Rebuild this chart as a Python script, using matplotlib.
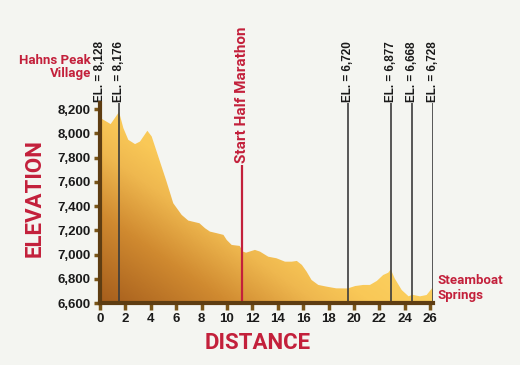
import numpy as np
import matplotlib
matplotlib.use('Agg')
import matplotlib.pyplot as plt
from matplotlib.colors import LinearSegmentedColormap

# Elevation profile (miles, feet)
miles = [0.0, 0.84, 1.5, 1.84, 2.23, 2.76, 3.15, 3.73, 4.07, 4.46, 4.85, 5.24,
         5.77, 6.43, 6.95, 7.83, 8.27, 8.66, 9.19, 9.72, 9.98, 10.37, 11.0,
         11.26, 11.5, 12.2, 12.6, 13.25, 13.9, 14.57, 15.1, 15.5, 15.9, 16.27,
         16.66, 17.19, 17.85, 18.6, 19.5, 20.1, 20.73, 21.26, 21.8, 22.3, 22.7,
         22.9, 23.2, 23.76, 24.3, 24.6, 25.2, 25.72, 26.2]
elevation = [8128, 8076, 8176, 8043, 7946, 7911, 7932, 8021, 7974, 7850, 7726,
             7602, 7423, 7327, 7280, 7258, 7217, 7189, 7176, 7162, 7120, 7079,
             7071, 7024, 7015, 7038, 7024, 6982, 6969, 6941, 6941, 6947, 6914,
             6859, 6790, 6749, 6735, 6721, 6720, 6740, 6749, 6749, 6782, 6831,
             6850, 6877, 6804, 6707, 6655, 6668, 6655, 6666, 6728]

marker_miles = [0.0, 1.5, 19.5, 22.9, 24.6, 26.2]
marker_labels = ['EL. = 8,128', 'EL. = 8,176', 'EL. = 6,720', 'EL. = 6,877',
                 'EL. = 6,668', 'EL. = 6,728']
half_start = 11.15

x_ticks = list(range(0, 27, 2))
y_ticks = list(range(6600, 8201, 200))

BG = '#f4f5f1'
RED = '#c3203b'
BROWN = '#5e3d12'

fig = plt.figure(figsize=(5.2, 3.65), dpi=100, facecolor=BG)
ax = fig.add_axes([100 / 520, 62 / 365, 332.7 / 520, 200 / 365])
ax.set_facecolor(BG)
ax.set_xlim(0, 26.2)
ax.set_ylim(6600, 8250)

# diagonal gradient (dark bottom-left -> yellow top-right), clipped to the profile
px, py = np.meshgrid(np.linspace(0, 333, 300), np.linspace(0, 200, 200))
grad = np.clip((0.57 * px + 0.82 * py) / 260, 0, 1)
cmap = LinearSegmentedColormap.from_list(
    'fill', [(0, '#a55d1c'), (0.28, '#d08a30'), (0.48, '#efb84f'),
             (0.6, '#f9c857'), (1, '#ffdb6b')])
img = ax.imshow(grad, cmap=cmap, origin='lower', aspect='auto',
                extent=[0, 26.2, 6600, 8250], zorder=1)
poly = ax.fill_between(miles, elevation, 6600, color='none', lw=0)
img.set_clip_path(poly.get_paths()[0], transform=ax.transData)

# marker lines
ax.vlines(marker_miles[1:], 6600, 8250, color='#3c3c3c', lw=1.2, zorder=3)
ax.vlines([half_start], 6600, 7740, color=RED, lw=1.6, zorder=3)

for m, lab in zip(marker_miles, marker_labels):
    ax.text(m, 8262, lab, rotation=90, ha='center', va='bottom', fontsize=8.5,
            fontweight='bold', family='Liberation Sans', color='#1a1a1a', clip_on=False)
ax.text(half_start, 7752, 'Start Half Marathon', rotation=90, ha='center', va='bottom',
        fontsize=11, fontweight='bold', family='Roboto', color=RED, clip_on=False)

# axes styling
for s in ['top', 'right']:
    ax.spines[s].set_visible(False)
for s in ['left', 'bottom']:
    ax.spines[s].set_color(BROWN)
    ax.spines[s].set_linewidth(3)
    ax.spines[s].set_zorder(4)
ax.set_xticks(x_ticks)
ax.set_yticks(y_ticks)
ax.set_xticklabels([str(v) for v in x_ticks])
ax.set_yticklabels([f'{v:,}' for v in y_ticks])
ax.tick_params(axis='y', direction='out', length=4, width=2.5, color='#7a5518', pad=3)
ax.tick_params(axis='x', direction='out', length=5, width=2.5, color='#7a5518', pad=2)
for lab in ax.get_xticklabels() + ax.get_yticklabels():
    lab.set_fontfamily('Liberation Sans')
    lab.set_fontweight('bold')
    lab.set_fontsize(9.5)
    lab.set_color('#1a1a1a')

fig.text(35 / 520, 1 - 198 / 365, 'ELEVATION', rotation=90, ha='center', va='center',
         fontsize=16, fontweight='bold', family='Roboto', color=RED)
fig.text(258 / 520, 1 - 343 / 365, 'DISTANCE', ha='center', va='center',
         fontsize=16, fontweight='bold', family='Roboto', color=RED)
fig.text(91 / 520, 1 - 67 / 365, 'Hahns Peak\nVillage', ha='right', va='center',
         fontsize=9.5, fontweight='bold', family='Roboto', color=RED, linespacing=1.1)
fig.text(437 / 520, 1 - 288 / 365, 'Steamboat\nSprings', ha='left', va='center',
         fontsize=9.5, fontweight='bold', family='Roboto', color=RED, linespacing=1.1)

fig.savefig('out.png', dpi=100, facecolor=BG)
